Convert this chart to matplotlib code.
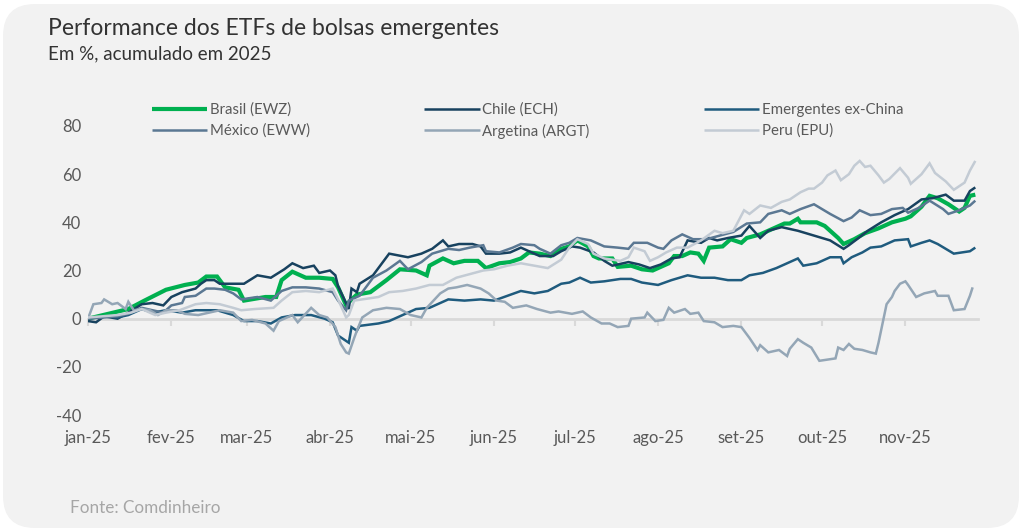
import numpy as np
import pandas as pd
import matplotlib
matplotlib.use('Agg')
import matplotlib.pyplot as plt
import matplotlib.dates as mdates
from matplotlib.patches import FancyBboxPatch
from matplotlib.transforms import IdentityTransform

plt.rcParams['font.family'] = ['Lato', 'DejaVu Sans']
plt.rcParams['axes.unicode_minus'] = False

# ---------------------------------------------------------------- data
# x = days since 2025-01-01, values = % accumulated in 2025
start = pd.Timestamp('2025-01-01')
month_labels = ['jan-25', 'fev-25', 'mar-25', 'abr-25', 'mai-25', 'jun-25',
                'jul-25', 'ago-25', 'set-25', 'out-25', 'nov-25']

brasil_days = [0, 15, 21, 29, 36, 41, 44, 48, 51, 56, 58, 66, 70, 72, 76, 81, 86, 91, 93, 96,
               98, 100, 105, 111, 116, 122, 126, 127, 132, 136, 140, 145, 148, 153, 157, 161,
               164, 168, 172, 176, 179, 182, 186, 188, 190, 195, 197, 202, 206, 210, 214, 216,
               218, 221, 224, 227, 229, 231, 236, 239, 243, 245, 250, 255, 259, 261, 264, 265,
               271, 274, 277, 279, 281, 285, 289, 294, 299, 304, 306, 310, 313, 316, 320, 324,
               326, 328, 330]
brasil_vals = [0, 4, 7.5, 12, 14, 15, 17.5, 17.5, 13, 12, 7.5, 9, 9, 16, 19.5, 17, 17, 16.5, 13, 5.5,
               8, 10, 11, 16, 20.5, 20, 18, 22, 25, 23, 24, 24, 21, 23, 23.5, 25,
               27.5, 27, 26, 29, 30, 32.5, 30, 26, 25, 25, 21.5, 22, 20.5, 20, 22, 23,
               26, 26, 27.5, 27, 24, 29.5, 30, 33, 31.5, 33.5, 35, 37.5, 39.5, 39.5, 41.5, 40,
               40, 38.5, 35.5, 33.5, 31, 33, 35.5, 37.5, 40, 41.5, 42.5, 46.5, 51, 50, 47.5, 44.5,
               46, 51, 51.5]

chile_days = [0, 3, 6, 11, 15, 20, 24, 28, 31, 35, 40, 42, 44, 47, 49, 54, 58, 63, 68, 73,
              76, 80, 84, 86, 90, 92, 93, 97, 98, 100, 101, 106, 112, 119, 124, 128, 132, 134,
              138, 143, 146, 148, 153, 157, 161, 166, 168, 173, 176, 180, 183, 188, 192, 195,
              201, 205, 209, 213, 217, 220, 223, 228, 231, 234, 238, 243, 246, 250, 253, 258,
              262, 264, 270, 276, 281, 283, 286, 290, 295, 300, 305, 310, 314, 319, 322, 326,
              328, 330]
chile_vals = [-1, -1.5, 1, 0, 2.5, 6, 6.5, 5.5, 9, 11, 12.5, 14.5, 16, 16, 14.5, 14.5, 14.5, 18, 17, 20.5,
              23, 21, 22, 19, 20, 18, 13.5, 4, 12.5, 11, 14.5, 18, 27, 25.5, 27, 29, 32.5, 30,
              31, 31, 30, 27, 27, 27.5, 29.5, 27, 26, 26, 28, 30, 29.5, 27.5, 24, 22,
              23.5, 22.5, 21, 22.5, 25, 25.5, 32.5, 31.5, 33.5, 32.5, 33.5, 34.5, 38.5, 33.5, 36.5, 38,
              37, 36.5, 34.5, 32.5, 29, 30.5, 33, 36.5, 40, 43, 45.5, 49.5, 50, 51.5, 49, 49,
              53, 54.5]

exchina_days = [0, 6, 11, 15, 20, 24, 29, 35, 40, 48, 54, 58, 63, 68, 72, 77, 83, 88, 91, 93,
                97, 98, 100, 101, 108, 112, 117, 122, 127, 134, 140, 146, 151, 156, 161, 166,
                171, 176, 179, 183, 187, 192, 198, 202, 206, 212, 217, 223, 228, 233, 238, 243,
                246, 251, 256, 262, 264, 266, 271, 276, 280, 281, 284, 288, 291, 295, 300, 305,
                306, 310, 313, 316, 322, 328, 330]
exchina_vals = [0, 1, 0.5, 1.5, 4, 2.5, 3.5, 2.5, 3.5, 3.5, 1.5, -1, -1, -2, 0.5, 1.5, 1.5, 0, -1.5, -7,
                -10, -3.5, -5, -3, -2, -1, 1.5, 4, 4.5, 8, 7.5, 8, 7.5, 9.5, 11.5, 10.5,
                11.5, 14.5, 15, 17, 15, 15.5, 16.5, 16.5, 15, 14, 16, 18, 17, 17, 16, 16,
                18, 19, 21, 24, 25, 22, 23, 25.5, 25.5, 23, 25.5, 27.5, 29.5, 30, 32.5, 33,
                30, 31.5, 32.5, 31, 27, 28, 29.5]

mexico_days = [0, 6, 11, 15, 20, 24, 28, 31, 35, 36, 40, 44, 47, 51, 54, 57, 63, 68, 72, 76,
               81, 86, 91, 93, 96, 97, 101, 106, 111, 116, 119, 124, 128, 134, 138, 142, 147,
               148, 153, 158, 161, 166, 168, 172, 176, 179, 182, 187, 192, 197, 201, 203, 208,
               212, 214, 217, 221, 225, 230, 235, 240, 245, 250, 253, 258, 261, 265, 270, 273,
               276, 281, 284, 287, 291, 295, 299, 303, 305, 309, 313, 318, 320, 324, 328, 330]
mexico_vals = [0, 0.5, 1, 2, 4.5, 3.5, 2.5, 5.5, 6.5, 9, 9.5, 12.5, 12.5, 12, 10.5, 8, 9, 7.5, 11.5, 13,
               13, 12.5, 11, 7.5, 3.5, 7.5, 9.5, 17, 20, 24, 20.5, 23.5, 27, 29, 28.5, 29.5, 30.5,
               28, 27.5, 29.5, 31, 30.5, 29, 27, 30.5, 31.5, 33.5, 32.5, 30, 29.5, 29, 31.5, 31.5,
               29.5, 29, 32.5, 35, 33, 33, 34.5, 36, 39.5, 40, 43.5, 45, 43.5, 45.5, 47.5, 45.5,
               43.5, 40.5, 42, 45, 43, 43.5, 45.5, 46, 44, 46, 49, 45.5, 43.5, 45, 47, 49]

argentina_days = [0, 2, 5, 6, 9, 11, 14, 15, 17, 20, 23, 26, 29, 33, 36, 41, 45, 49, 54, 57,
                  61, 66, 69, 71, 73, 76, 78, 83, 86, 89, 92, 94, 96, 97, 99, 100, 102, 106,
                  111, 116, 120, 124, 126, 131, 134, 137, 141, 146, 149, 152, 155, 158, 163,
                  167, 172, 175, 180, 184, 187, 191, 194, 197, 201, 202, 207, 208, 211, 214,
                  216, 218, 222, 224, 227, 229, 233, 236, 240, 243, 246, 249, 250, 253, 257,
                  260, 261, 264, 266, 269, 272, 275, 278, 279, 281, 283, 285, 288, 291, 293,
                  294, 297, 299, 300, 302, 304, 305, 308, 311, 315, 316, 320, 322, 326, 328, 329]
argentina_vals = [0, 6, 6.5, 8, 6, 6.5, 4, 7, 3.5, 4, 3.5, 1.5, 3.5, 3.5, 2, 1.5, 2.5, 3.5, 2.5, -1,
                  -0.5, -2, -5, -1, 0, 1.5, -1.5, 4.5, 1.5, 0.5, -3.5, -10.5, -14, -14.5, -8, -5, 0.5, 3.5,
                  4.5, 4, 1.5, 0.5, 4.5, 10.5, 12.5, 13, 14, 12.5, 10.5, 7.5, 7, 4.5, 5.5,
                  4, 2.5, 3, 2, 3, 0.5, -2, -2, -3.5, -3, 0, 0.5, 2.5, -1, -0.5,
                  4.5, 2.5, 4, 2, 2.5, -1, -1.5, -3.5, -3, -3.5, -8, -13, -11, -14, -13,
                  -15.5, -12.5, -8.5, -10, -12, -17.5, -17, -16.5, -12, -13, -10.5, -12.5, -13, -14, -14.5,
                  -10, 6, 9, 11.5, 14.5, 15.5, 14, 9, 10.5, 11.5, 9.5, 9.5, 3.5, 4, 9.5, 13]

peru_days = [0, 11, 16, 20, 25, 29, 34, 40, 44, 49, 54, 57, 62, 69, 72, 76, 81, 86, 91, 93,
             96, 97, 99, 102, 108, 112, 117, 122, 127, 132, 137, 142, 147, 151, 156, 161, 166,
             171, 176, 179, 182, 186, 188, 192, 198, 201, 203, 207, 209, 212, 215, 219, 223,
             228, 233, 236, 240, 244, 246, 250, 254, 258, 261, 265, 268, 270, 273, 275, 278,
             280, 283, 285, 287, 289, 291, 294, 296, 298, 302, 305, 306, 310, 313, 315, 319,
             322, 326, 328, 330]
peru_vals = [0.5, 1.5, 2.5, 4, 1.5, 2.5, 3.5, 6, 6.5, 6, 4.5, 3.5, 4, 4.5, 7.5, 11, 11.5, 11, 12.5, 8,
             0.5, 1.5, 7.5, 8, 9, 11, 11.5, 12.5, 14, 14, 17, 18.5, 20, 20.5, 22, 23, 22,
             21, 24.5, 29.5, 33, 31, 27, 25, 24, 25.5, 29.5, 28, 24, 25.5, 27.5, 29.5, 29.5,
             32.5, 36.5, 35.5, 36.5, 45, 43.5, 47, 46, 48.5, 49.5, 52.5, 54, 54, 56.5, 59.5, 61.5,
             57.5, 60, 63.5, 65.5, 63, 63.5, 59.5, 56.5, 58, 62.5, 58.5, 56, 60, 64.5, 60.5, 57,
             53.5, 56.5, 61.5, 65.5]

series = [
    ('Brasil (EWZ)', brasil_days, brasil_vals, '#00b050', 3.0),
    ('Chile (ECH)', chile_days, chile_vals, '#18425f', 1.8),
    ('Emergentes ex-China', exchina_days, exchina_vals, '#1f5b7e', 1.8),
    ('México (EWW)', mexico_days, mexico_vals, '#5b7893', 1.8),
    ('Argetina (ARGT)', argentina_days, argentina_vals, '#94a6b6', 1.8),
    ('Peru (EPU)', peru_days, peru_vals, '#c3cbd4', 1.8),
]

# ---------------------------------------------------------------- figure
fig = plt.figure(figsize=(10.24, 5.32), dpi=100, facecolor='white')
bg = FancyBboxPatch((3, 4), 1016, 524, boxstyle='round,pad=0,rounding_size=32',
                    transform=IdentityTransform(), facecolor='#f2f2f2',
                    edgecolor='none', zorder=-10)
fig.add_artist(bg)

ax = fig.add_axes([88 / 1024, 1 - 415 / 532, 890 / 1024, 289 / 532])
ax.set_facecolor('none')

lines = {}
for label, days, vals, color, lw in series:
    dates = start + pd.to_timedelta(days, unit='D')
    ln, = ax.plot(dates, vals, color=color, lw=lw, label=label,
                  solid_joinstyle='miter', solid_capstyle='butt')
    lines[label] = ln

ax.set_ylim(-40, 80)
ax.set_yticks(np.arange(-40, 81, 20))
ax.set_xlim(start, start + pd.Timedelta(days=331))

month_starts = pd.date_range('2025-01-01', periods=len(month_labels), freq='MS')
ax.set_xticks(month_starts)
ax.tick_params(axis='x', direction='out', length=5, width=1.5, color='#d9d9d9',
               labelbottom=False)
ax.tick_params(axis='y', length=0, pad=5, labelsize=12, labelcolor='#595959')

for s in ['top', 'right', 'left']:
    ax.spines[s].set_visible(False)
ax.spines['bottom'].set_position(('data', 0))
ax.spines['bottom'].set_color('#d9d9d9')
ax.spines['bottom'].set_linewidth(2)
ax.spines['bottom'].set_zorder(0.5)

sec = ax.secondary_xaxis('bottom')
sec.set_xticks(month_starts, month_labels)
sec.tick_params(length=0, pad=11, labelsize=12, labelcolor='#595959')
sec.spines['bottom'].set_visible(False)

# legend: 3 columns x 2 rows
order = ['Brasil (EWZ)', 'México (EWW)', 'Chile (ECH)', 'Argetina (ARGT)',
         'Emergentes ex-China', 'Peru (EPU)']
fig.legend([lines[k] for k in order], order, ncol=3, frameon=False,
           loc='upper left', bbox_to_anchor=(138 / 1024, 1 - 89 / 532),
           fontsize=10.8, handlelength=3.7, handletextpad=0.2,
           columnspacing=7.6, labelspacing=0.45, labelcolor='#595959')

fig.text(48 / 1024, 1 - 18 / 532, 'Performance dos ETFs de bolsas emergentes',
         fontsize=16.5, color='#333333', va='top', ha='left')
fig.text(48 / 1024, 1 - 45 / 532, 'Em %, acumulado em 2025',
         fontsize=13.5, color='#333333', va='top', ha='left')
fig.text(70 / 1024, 1 - 508 / 532, 'Fonte: Comdinheiro',
         fontsize=12.3, color='#a6a6a6', va='center', ha='left')

fig.savefig('out.png', dpi=100)
plt.close(fig)
